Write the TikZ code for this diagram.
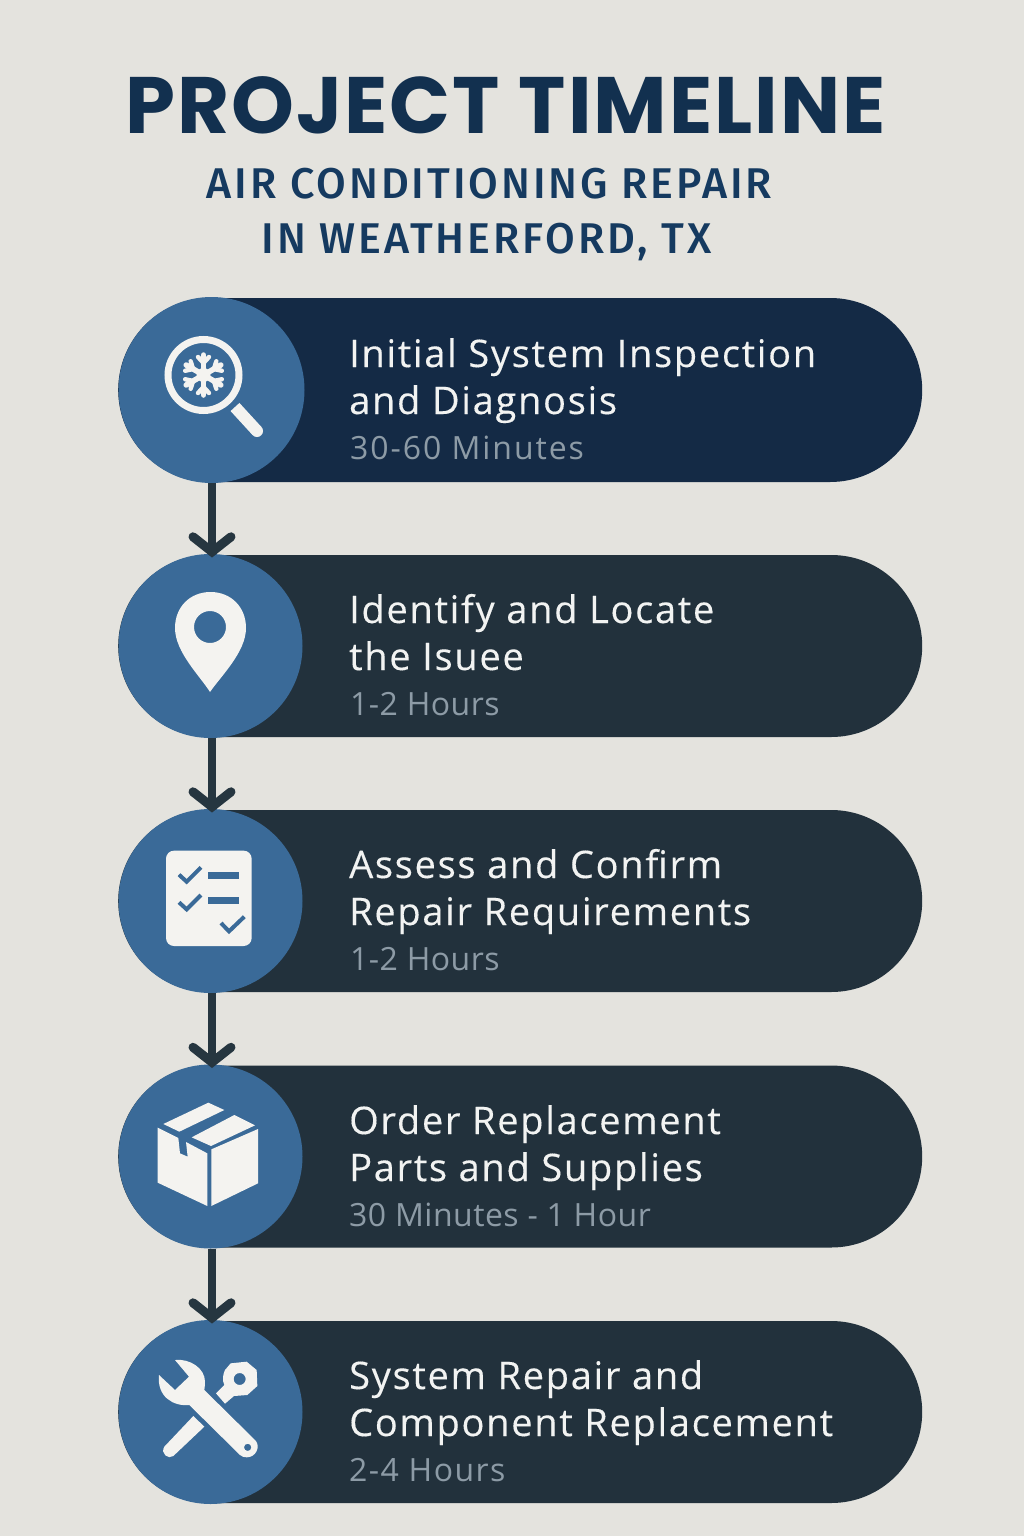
\documentclass[tikz,border=0pt]{standalone}
\usepackage{fontspec}
\setmainfont{Open Sans}[LetterSpace=4.5,FakeBold=0.25]
\newfontfamily\titlefont{Poppins}[LetterSpace=2.5]
\newfontfamily\subfont{Fira Sans Medium}[LetterSpace=6.8]
\newfontfamily\lapsefont{Open Sans}[LetterSpace=1.5]
\newfontfamily\lapsewide{Open Sans}[LetterSpace=6]
\newfontfamily\lapsemid{Open Sans}[LetterSpace=4.5]
\usetikzlibrary{shapes.misc,calc}
\definecolor{bgc}{HTML}{E4E3DE}
\definecolor{navy}{HTML}{142A45}
\definecolor{slate}{HTML}{22313C}
\definecolor{disc}{HTML}{3A6A98}
\definecolor{ico}{HTML}{F4F3F0}
\definecolor{ttl}{HTML}{12304F}
\definecolor{sub}{HTML}{153A60}
\definecolor{wht}{HTML}{F2F3F2}
\definecolor{dur}{HTML}{8D9BA6}
\definecolor{arw}{HTML}{263640}
\tikzset{
  pillbox/.style={rounded rectangle,inner sep=0pt,minimum width=804pt,anchor=west},
  discbox/.style={circle,fill=disc,inner sep=0pt},
  conn/.style={draw=arw,line width=8pt},
  chev/.style={draw=arw,line width=9pt,line cap=round,miter limit=10},
  head/.style={anchor=base west,inner sep=0pt,text=wht,font=\fontsize{38}{38}\selectfont},
  lapse/.style={anchor=base west,inner sep=0pt,text=dur,font=\lapsefont\fontsize{32}{32}\selectfont},
  tick/.style={draw=disc,line width=4pt},
  glyph/.style={fill=ico,draw=none},
}
\begin{document}
\begin{tikzpicture}[x=1pt,y=-1pt]
\useasboundingbox (0,0) rectangle (1024,1536);
\fill[bgc] (0,0) rectangle (1024,1536);
% title
\node[anchor=base,inner sep=0pt,text=ttl,font=\titlefont\bfseries\fontsize{80}{80}\selectfont] (t1) at (505.5,134) {PROJECT TIMELINE};
\node[anchor=base,inner sep=0pt,text=sub,font=\subfont\fontsize{43}{43}\selectfont] (t2) at (489.5,198) {AIR CONDITIONING REPAIR};
\node[anchor=base,inner sep=0pt,text=sub,font=\subfont\fontsize{43}{43}\selectfont] (t3) at (486.5,253) {IN WEATHERFORD, TX};
% pills
\node[pillbox,fill=navy,minimum height=184pt] (p1) at (118,390) {};
\node[pillbox,fill=slate,minimum height=182pt] (p2) at (118,646) {};
\node[pillbox,fill=slate,minimum height=182pt] (p3) at (118,901) {};
\node[pillbox,fill=slate,minimum height=182pt] (p4) at (118,1156.5) {};
\node[pillbox,fill=slate,minimum height=182pt] (p5) at (118,1412) {};
% discs
\node[discbox,minimum size=186pt] (c1) at (211.5,390) {};
\node[discbox,minimum size=184pt] (c2) at (210.5,646) {};
\node[discbox,minimum size=184pt] (c3) at (210.5,901) {};
\node[discbox,minimum size=184pt] (c4) at (210.5,1156.5) {};
\node[discbox,minimum size=184pt] (c5) at (210.5,1412) {};
% connectors
\coordinate (xx) at (212,0);
\foreach \a/\b in {c1/c2,c2/c3,c3/c4,c4/c5}{
  \draw[conn] (\a.south -| xx) -- (\b.north -| xx);
  \draw[chev] ($(\b.north -| xx)+(-19,-17)$) -- ($(\b.north -| xx)+(0,-2)$) -- ($(\b.north -| xx)+(19,-17)$);
}
% texts
\node[head] (a1) at (349,367) {Initial System Inspection};
\node[head] (b1) at (349,414) {and Diagnosis};
\node[lapse,font=\lapsewide\fontsize{32}{32}\selectfont] (d1) at (350,459) {30-60 Minutes};
\node[head] (a2) at (349,623) {Identify and Locate};
\node[head] (b2) at (349,670) {the Isuee};
\node[lapse] (d2) at (350,715) {1-2 Hours};
\node[head] (a3) at (349,878) {Assess and Confirm};
\node[head] (b3) at (349,925) {Repair Requirements};
\node[lapse] (d3) at (350,970) {1-2 Hours};
\node[head] (a4) at (349,1134) {Order Replacement};
\node[head] (b4) at (349,1181) {Parts and Supplies};
\node[lapse] (d4) at (349,1226) {30 Minutes - 1 Hour};
\node[head] (a5) at (349,1389) {System Repair and};
\node[head] (b5) at (349,1436) {Component Replacement};
\node[lapse,font=\lapsemid\fontsize{32}{32}\selectfont] (d5) at (349,1481) {2-4 Hours};
% icon 1: magnifier
\draw[ico,line width=7pt] (203.5,375) circle (35.5);
\draw[ico,line width=12pt] (235,407) -- (257,431);
\fill[ico] (257,431) circle (6);
\begin{scope}[shift={(203.5,375)}]
\foreach \r in {0,60,...,300}{
  \begin{scope}[rotate=\r]
  \draw[ico,line width=5.5pt,line cap=round] (0,0) -- (0,-20);
  \draw[ico,line width=4.4pt,line cap=round] (0,-12) -- (-5.5,-18) (0,-12) -- (5.5,-18);
  \end{scope}
}
\fill[ico] (0,0) circle (7);
\end{scope}
% icon 2: pin
\fill[ico,even odd rule] (210,692) .. controls (200,676) and (175,652) .. (175,628)
  .. controls (175,607) and (190,592) .. (210.5,592)
  .. controls (231,592) and (246,607) .. (246,628)
  .. controls (246,652) and (221,676) .. (210,692) -- cycle
  (226,627) arc[start angle=0,delta angle=360,radius=16];
% icon 3: checklist
\begin{scope}[shift={(110,800)},scale=1/3]
\fill[ico,rounded corners=8pt] (168,152) rectangle (425,438);
\draw[tick] (207,224) -- (230,245) -- (273,202);
\draw[tick] (207,307) -- (230,328) -- (273,285);
\draw[tick] (333,369) -- (357,394) -- (403,350);
\fill[disc] (294,217) rectangle (387,237);
\fill[disc] (294,291) rectangle (387,311);
\end{scope}
% icon 4: box
\begin{scope}[shift={(110,1060)},scale=1/3]
\fill[glyph] (143,203) -- (205,234) -- (210,280) -- (233,290) -- (228,246) -- (292,280) -- (292,438) -- (143,368) -- cycle;
\fill[glyph] (304,268) -- (444,207) -- (444,370) -- (304,438) -- cycle;
\fill[glyph] (160,192) -- (295,128) -- (343,150) -- (208,215) -- cycle;
\fill[glyph] (245,232) -- (373,165) -- (435,196) -- (303,258) -- cycle;
\end{scope}
% icon 5: tools
\begin{scope}[shift={(110,1310)},scale=1/3]
\fill[glyph,even odd rule] (195,150) .. controls (240,145) and (285,175) .. (285,215)
  .. controls (285,225) and (284,232) .. (283,240) -- (437,392)
  .. controls (452,410) and (438,442) .. (410,442) .. controls (402,442) and (396,440) .. (390,435)
  -- (238,285) .. controls (190,290) and (140,260) .. (147,195)
  -- (195,240) -- (237,200) -- cycle
  (424,412) arc[start angle=0,delta angle=360,radius=11];
\fill[glyph] (250,318) -- (283,350) -- (190,438) .. controls (175,450) and (150,430) .. (163,410) -- cycle;
\fill[glyph,even odd rule] (318,250) -- (343,225) .. controls (335,210) and (340,190) .. (345,180)
  -- (362,160) -- (410,155) -- (440,180) -- (442,228) -- (412,255) -- (372,258) -- (345,281) -- cycle
  (407,207) arc[start angle=0,delta angle=360,radius=18];
\end{scope}
\end{tikzpicture}
\end{document}
